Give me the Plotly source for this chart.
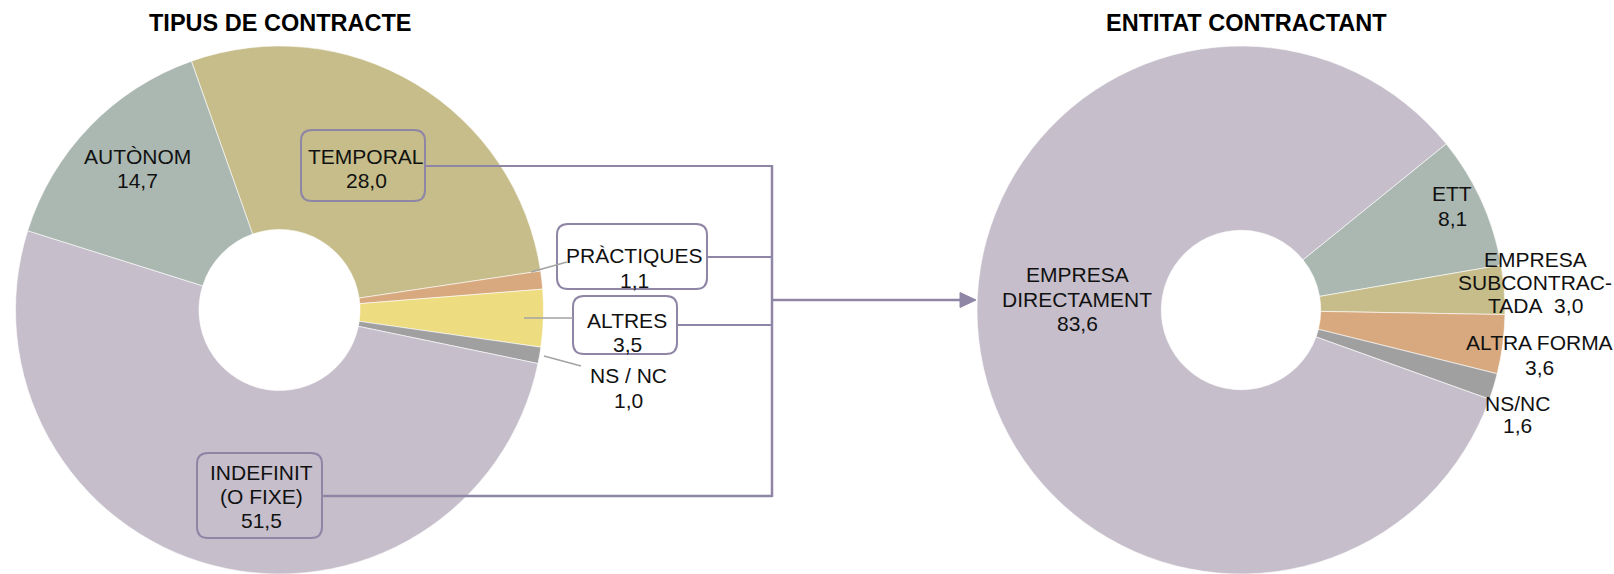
import plotly.graph_objects as go

# canvas size (pixels), margins are zero so paper coords map straight to pixels
W, H = 1614, 574

# --- data ---
contract_title = "TIPUS DE CONTRACTE"
contract_labels = ["TEMPORAL", "PRÀCTIQUES", "ALTRES", "NS / NC", "INDEFINIT (O FIXE)", "AUTÒNOM"]
contract_values = [28.0, 1.1, 3.5, 1.0, 51.5, 14.7]
contract_colors = ["#C6BD8A", "#D8A97E", "#EEDC80", "#A0A0A0", "#C6BFCB", "#ABB8B1"]

entity_title = "ENTITAT CONTRACTANT"
entity_labels = ["ETT", "EMPRESA SUBCONTRACTADA", "ALTRA FORMA", "NS/NC", "EMPRESA DIRECTAMENT"]
entity_values = [8.1, 3.0, 3.6, 1.6, 83.6]
entity_colors = ["#ABB8B1", "#C6BD8A", "#D8A97E", "#A0A0A0", "#C6BFCB"]

LINE = "#8F86A6"
LEADER = "#A3A3A3"
FONT = "Liberation Sans, Arial, sans-serif"
LABEL_SIZE = 21


def px(x):
    return x / W


def py(y):
    return 1 - y / H


def fmt(v):
    return f"{v:.1f}".replace(".", ",")


fig = go.Figure()

fig.add_trace(go.Pie(
    labels=contract_labels, values=contract_values, hole=0.305,
    sort=False, direction="clockwise", rotation=-19.5,
    marker=dict(colors=contract_colors, line=dict(color="white", width=0.6)),
    textinfo="none", hoverinfo="label+value", showlegend=False,
    domain=dict(x=[px(15.5), px(543.5)], y=[0, py(46)]),
))
fig.add_trace(go.Pie(
    labels=entity_labels, values=entity_values, hole=0.302,
    sort=False, direction="clockwise", rotation=51,
    marker=dict(colors=entity_colors, line=dict(color="white", width=0.6)),
    textinfo="none", hoverinfo="label+value", showlegend=False,
    domain=dict(x=[px(977), px(1505)], y=[0, py(46)]),
))

# label text lines (split as in the original) and where they sit
contract_lines = [
    ["TEMPORAL", fmt(contract_values[0])],
    ["PRÀCTIQUES", fmt(contract_values[1])],
    ["ALTRES", fmt(contract_values[2])],
    ["NS / NC", fmt(contract_values[3])],
    ["INDEFINIT", "(O FIXE)", fmt(contract_values[4])],
    ["AUTÒNOM", fmt(contract_values[5])],
]
contract_pos = [(366, 156, 25), (634, 255, 25), (627, 320, 25), (628, 376, 24), (261, 472, 24), (137, 156, 24)]

entity_lines = [
    ["ETT", fmt(entity_values[0])],
    ["EMPRESA", "SUBCONTRAC-", "TADA\u00a0 " + fmt(entity_values[1])],
    ["ALTRA FORMA", fmt(entity_values[2])],
    ["NS/NC", fmt(entity_values[3])],
    ["EMPRESA", "DIRECTAMENT", fmt(entity_values[4])],
]
entity_pos = [(1452, 193, 25), (1535, 259, 23.5), (1539, 342, 25), (1517, 403, 22), (1077, 275, 24)]

annotations = []
for lines, (x, y0, step) in zip(contract_lines + entity_lines, contract_pos + entity_pos):
    for i, t in enumerate(lines):
        annotations.append(dict(
            x=px(x), y=py(y0 + i * step), xref="paper", yref="paper",
            text=t, showarrow=False, xanchor="center", yanchor="middle",
            font=dict(family=FONT, size=LABEL_SIZE, color="#111111"),
        ))

for title, x in [(contract_title, 279.5), (entity_title, 1246)]:
    annotations.append(dict(
        x=px(x), y=py(23), xref="paper", yref="paper", text="<b>" + title + "</b>",
        showarrow=False, xanchor="center", yanchor="middle",
        font=dict(family=FONT, size=23.5, color="#000000"),
    ))


def rounded_box(x0, y0, x1, y1, r=11):
    p = [
        f"M {px(x0 + r)} {py(y0)}",
        f"L {px(x1 - r)} {py(y0)}",
        f"Q {px(x1)} {py(y0)} {px(x1)} {py(y0 + r)}",
        f"L {px(x1)} {py(y1 - r)}",
        f"Q {px(x1)} {py(y1)} {px(x1 - r)} {py(y1)}",
        f"L {px(x0 + r)} {py(y1)}",
        f"Q {px(x0)} {py(y1)} {px(x0)} {py(y1 - r)}",
        f"L {px(x0)} {py(y0 + r)}",
        f"Q {px(x0)} {py(y0)} {px(x0 + r)} {py(y0)}",
        "Z",
    ]
    return dict(type="path", xref="paper", yref="paper", path=" ".join(p),
                line=dict(color=LINE, width=2), fillcolor="rgba(0,0,0,0)")


def seg(x0, y0, x1, y1, color=LINE, width=2):
    return dict(type="line", xref="paper", yref="paper",
                x0=px(x0), y0=py(y0), x1=px(x1), y1=py(y1),
                line=dict(color=color, width=width))


shapes = [
    rounded_box(301, 130, 425, 201),
    rounded_box(557, 224, 707, 289),
    rounded_box(573, 296, 677, 354),
    rounded_box(197, 453, 322, 538),
    # leader lines for thin slices
    seg(531, 272, 567, 262, LEADER, 1.5),
    seg(524, 318, 573, 318, LEADER, 1.5),
    seg(544, 356, 581, 366, LEADER, 1.5),
    # bracket joining the left labels
    seg(425, 166, 772, 166),
    seg(707, 257, 772, 257),
    seg(677, 325, 772, 325),
    seg(322, 496, 772, 496, width=2.5),
    seg(772, 165, 772, 497, width=2.5),
    # arrow to the right pie
    seg(772, 300, 962, 300, width=2.5),
    dict(type="path", xref="paper", yref="paper",
         path=f"M {px(960)} {py(292.5)} L {px(976)} {py(300)} L {px(960)} {py(307.5)} Z",
         line=dict(color=LINE, width=1), fillcolor=LINE),
]

fig.update_layout(
    width=W, height=H,
    margin=dict(l=0, r=0, t=0, b=0),
    paper_bgcolor="white", plot_bgcolor="white",
    annotations=annotations, shapes=shapes,
    showlegend=False,
)

# drop the browser's default 8px body margin so the figure fills the window
fig.write_html("out.html", config={"displayModeBar": False},
               post_script="document.body.style.margin='0px';")
